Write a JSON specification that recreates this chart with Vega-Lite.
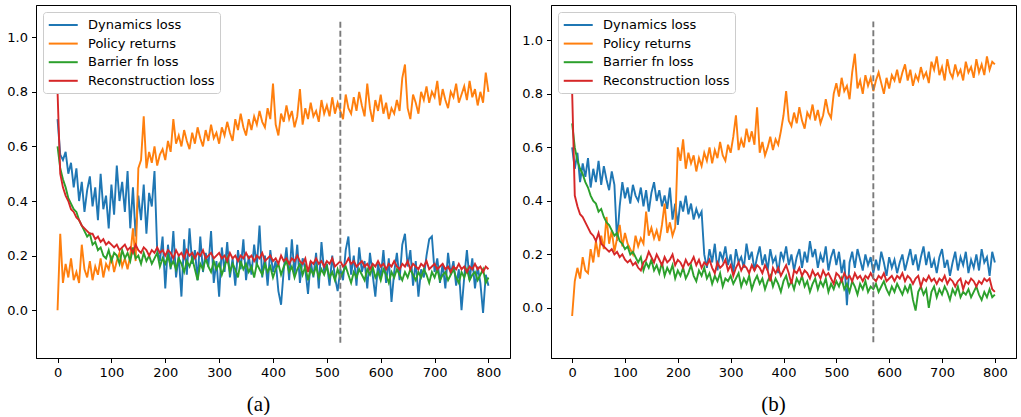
{
"$schema": "https://vega.github.io/schema/vega-lite/v6.json",
"padding": {"left": 6, "top": 4, "right": 2, "bottom": 0},
"background": "white",
"spacing": 10,
"config": {
  "view": {"stroke": "black", "strokeWidth": 1},
  "axis": {"domainColor": "black", "tickColor": "black", "labelColor": "black", "labelFont": "DejaVu Sans", "labelFontSize": 13, "tickSize": 4.5, "labelPadding": 4, "grid": false, "domainWidth": 1, "tickWidth": 1, "titleFont": "Liberation Serif", "titleFontSize": 21, "titleFontWeight": "normal", "titleColor": "black"},
  "legend": {"orient": "top-left", "offset": 6.5, "fillColor": "white", "strokeColor": "#cccccc", "strokeWidth": 1, "cornerRadius": 3, "padding": 4.5, "symbolType": "M-1,0H3", "symbolSize": 210, "symbolStrokeWidth": 2, "labelFont": "DejaVu Sans", "labelFontSize": 13, "labelColor": "black", "labelOffset": 23.5, "rowPadding": 2.6, "title": null}
},
"resolve": {"scale": {"color": "independent"}, "legend": {"color": "independent"}},
"datasets": {
"A": [
{"x":0,"d":0.70,"r":0.00,"b":0.60,"c":0.80},
{"x":5,"d":0.57,"r":0.28,"b":0.52,"c":0.50},
{"x":10,"d":0.55,"r":0.10,"b":0.48,"c":0.45},
{"x":15,"d":0.58,"r":0.17,"b":0.45,"c":0.42},
{"x":20,"d":0.50,"r":0.12,"b":0.41,"c":0.40},
{"x":25,"d":0.54,"r":0.19,"b":0.39,"c":0.37},
{"x":30,"d":0.45,"r":0.11,"b":0.37,"c":0.36},
{"x":35,"d":0.52,"r":0.14,"b":0.36,"c":0.34},
{"x":40,"d":0.40,"r":0.10,"b":0.33,"c":0.33},
{"x":45,"d":0.47,"r":0.24,"b":0.31,"c":0.31},
{"x":50,"d":0.36,"r":0.15,"b":0.29,"c":0.30},
{"x":55,"d":0.44,"r":0.12,"b":0.27,"c":0.29},
{"x":60,"d":0.49,"r":0.18,"b":0.28,"c":0.28},
{"x":65,"d":0.38,"r":0.11,"b":0.24,"c":0.28},
{"x":70,"d":0.45,"r":0.16,"b":0.25,"c":0.26},
{"x":75,"d":0.33,"r":0.13,"b":0.22,"c":0.27},
{"x":80,"d":0.50,"r":0.19,"b":0.23,"c":0.25},
{"x":85,"d":0.37,"r":0.12,"b":0.20,"c":0.26},
{"x":90,"d":0.42,"r":0.17,"b":0.19,"c":0.24},
{"x":95,"d":0.30,"r":0.15,"b":0.22,"c":0.25},
{"x":100,"d":0.46,"r":0.20,"b":0.18,"c":0.24},
{"x":105,"d":0.35,"r":0.14,"b":0.21,"c":0.23},
{"x":110,"d":0.53,"r":0.18,"b":0.20,"c":0.24},
{"x":115,"d":0.40,"r":0.21,"b":0.17,"c":0.22},
{"x":120,"d":0.47,"r":0.16,"b":0.22,"c":0.23},
{"x":125,"d":0.36,"r":0.19,"b":0.19,"c":0.24},
{"x":130,"d":0.51,"r":0.15,"b":0.21,"c":0.22},
{"x":135,"d":0.30,"r":0.20,"b":0.18,"c":0.23},
{"x":140,"d":0.45,"r":0.30,"b":0.23,"c":0.21},
{"x":145,"d":0.27,"r":0.18,"b":0.19,"c":0.24},
{"x":150,"d":0.42,"r":0.52,"b":0.20,"c":0.22},
{"x":155,"d":0.33,"r":0.55,"b":0.17,"c":0.21},
{"x":160,"d":0.46,"r":0.71,"b":0.21,"c":0.23},
{"x":165,"d":0.28,"r":0.52,"b":0.18,"c":0.22},
{"x":170,"d":0.43,"r":0.58,"b":0.20,"c":0.20},
{"x":175,"d":0.38,"r":0.54,"b":0.17,"c":0.22},
{"x":180,"d":0.51,"r":0.60,"b":0.19,"c":0.21},
{"x":185,"d":0.22,"r":0.53,"b":0.21,"c":0.23},
{"x":190,"d":0.18,"r":0.57,"b":0.16,"c":0.21},
{"x":195,"d":0.27,"r":0.59,"b":0.19,"c":0.22},
{"x":200,"d":0.08,"r":0.55,"b":0.17,"c":0.20},
{"x":205,"d":0.24,"r":0.62,"b":0.20,"c":0.22},
{"x":210,"d":0.15,"r":0.58,"b":0.16,"c":0.21},
{"x":215,"d":0.29,"r":0.70,"b":0.18,"c":0.19},
{"x":220,"d":0.12,"r":0.61,"b":0.15,"c":0.22},
{"x":225,"d":0.20,"r":0.64,"b":0.19,"c":0.20},
{"x":230,"d":0.05,"r":0.60,"b":0.17,"c":0.21},
{"x":235,"d":0.26,"r":0.66,"b":0.14,"c":0.19},
{"x":240,"d":0.13,"r":0.62,"b":0.18,"c":0.22},
{"x":245,"d":0.30,"r":0.59,"b":0.16,"c":0.20},
{"x":250,"d":0.17,"r":0.65,"b":0.19,"c":0.21},
{"x":255,"d":0.22,"r":0.61,"b":0.15,"c":0.19},
{"x":260,"d":0.11,"r":0.67,"b":0.11,"c":0.21},
{"x":265,"d":0.27,"r":0.63,"b":0.17,"c":0.20},
{"x":270,"d":0.14,"r":0.60,"b":0.15,"c":0.22},
{"x":275,"d":0.21,"r":0.66,"b":0.19,"c":0.19},
{"x":280,"d":0.16,"r":0.62,"b":0.16,"c":0.20},
{"x":285,"d":0.29,"r":0.68,"b":0.14,"c":0.21},
{"x":290,"d":0.10,"r":0.63,"b":0.18,"c":0.19},
{"x":295,"d":0.18,"r":0.65,"b":0.15,"c":0.20},
{"x":300,"d":0.05,"r":0.61,"b":0.17,"c":0.21},
{"x":305,"d":0.23,"r":0.67,"b":0.13,"c":0.19},
{"x":310,"d":0.14,"r":0.64,"b":0.16,"c":0.20},
{"x":315,"d":0.25,"r":0.69,"b":0.19,"c":0.18},
{"x":320,"d":0.12,"r":0.65,"b":0.14,"c":0.21},
{"x":325,"d":0.19,"r":0.62,"b":0.17,"c":0.19},
{"x":330,"d":0.09,"r":0.70,"b":0.15,"c":0.20},
{"x":335,"d":0.22,"r":0.66,"b":0.12,"c":0.18},
{"x":340,"d":0.15,"r":0.72,"b":0.18,"c":0.20},
{"x":345,"d":0.26,"r":0.67,"b":0.15,"c":0.19},
{"x":350,"d":0.11,"r":0.64,"b":0.17,"c":0.21},
{"x":355,"d":0.20,"r":0.70,"b":0.14,"c":0.19},
{"x":360,"d":0.13,"r":0.66,"b":0.16,"c":0.20},
{"x":365,"d":0.24,"r":0.71,"b":0.12,"c":0.18},
{"x":370,"d":0.16,"r":0.68,"b":0.17,"c":0.20},
{"x":375,"d":0.31,"r":0.73,"b":0.15,"c":0.19},
{"x":380,"d":0.12,"r":0.69,"b":0.13,"c":0.21},
{"x":385,"d":0.20,"r":0.67,"b":0.17,"c":0.18},
{"x":390,"d":0.09,"r":0.74,"b":0.14,"c":0.19},
{"x":395,"d":0.22,"r":0.70,"b":0.16,"c":0.20},
{"x":400,"d":0.14,"r":0.83,"b":0.12,"c":0.18},
{"x":405,"d":0.18,"r":0.68,"b":0.15,"c":0.19},
{"x":410,"d":0.07,"r":0.64,"b":0.17,"c":0.17},
{"x":415,"d":0.02,"r":0.72,"b":0.13,"c":0.20},
{"x":420,"d":0.15,"r":0.69,"b":0.16,"c":0.18},
{"x":425,"d":0.23,"r":0.75,"b":0.18,"c":0.19},
{"x":430,"d":0.11,"r":0.70,"b":0.14,"c":0.17},
{"x":435,"d":0.26,"r":0.73,"b":0.16,"c":0.19},
{"x":440,"d":0.13,"r":0.67,"b":0.12,"c":0.18},
{"x":445,"d":0.24,"r":0.71,"b":0.15,"c":0.20},
{"x":450,"d":0.10,"r":0.81,"b":0.17,"c":0.18},
{"x":455,"d":0.19,"r":0.68,"b":0.13,"c":0.17},
{"x":460,"d":0.15,"r":0.74,"b":0.16,"c":0.19},
{"x":465,"d":0.06,"r":0.70,"b":0.11,"c":0.14},
{"x":470,"d":0.18,"r":0.76,"b":0.15,"c":0.18},
{"x":475,"d":0.12,"r":0.71,"b":0.13,"c":0.17},
{"x":480,"d":0.21,"r":0.73,"b":0.16,"c":0.19},
{"x":485,"d":0.08,"r":0.69,"b":0.12,"c":0.17},
{"x":490,"d":0.25,"r":0.77,"b":0.15,"c":0.18},
{"x":495,"d":0.14,"r":0.72,"b":0.13,"c":0.16},
{"x":500,"d":0.17,"r":0.75,"b":0.16,"c":0.18},
{"x":505,"d":0.09,"r":0.71,"b":0.12,"c":0.17},
{"x":510,"d":0.20,"r":0.78,"b":0.14,"c":0.19},
{"x":515,"d":0.12,"r":0.72,"b":0.11,"c":0.16},
{"x":520,"d":0.07,"r":0.76,"b":0.15,"c":0.17},
{"x":525,"d":0.15,"r":0.73,"b":0.12,"c":0.18},
{"x":530,"d":0.11,"r":0.70,"b":0.14,"c":0.16},
{"x":535,"d":0.22,"r":0.79,"b":0.16,"c":0.17},
{"x":540,"d":0.27,"r":0.74,"b":0.13,"c":0.19},
{"x":545,"d":0.13,"r":0.72,"b":0.10,"c":0.17},
{"x":550,"d":0.20,"r":0.78,"b":0.14,"c":0.18},
{"x":555,"d":0.09,"r":0.73,"b":0.12,"c":0.16},
{"x":560,"d":0.23,"r":0.80,"b":0.15,"c":0.17},
{"x":565,"d":0.14,"r":0.75,"b":0.13,"c":0.18},
{"x":570,"d":0.18,"r":0.71,"b":0.11,"c":0.16},
{"x":575,"d":0.08,"r":0.83,"b":0.15,"c":0.17},
{"x":580,"d":0.21,"r":0.74,"b":0.13,"c":0.15},
{"x":585,"d":0.13,"r":0.69,"b":0.16,"c":0.17},
{"x":590,"d":0.05,"r":0.77,"b":0.12,"c":0.16},
{"x":595,"d":0.17,"r":0.73,"b":0.14,"c":0.18},
{"x":600,"d":0.12,"r":0.79,"b":0.11,"c":0.16},
{"x":605,"d":0.22,"r":0.72,"b":0.15,"c":0.17},
{"x":610,"d":0.10,"r":0.76,"b":0.13,"c":0.15},
{"x":615,"d":0.19,"r":0.70,"b":0.10,"c":0.17},
{"x":620,"d":0.03,"r":0.74,"b":0.14,"c":0.16},
{"x":625,"d":0.14,"r":0.72,"b":0.12,"c":0.18},
{"x":630,"d":0.21,"r":0.77,"b":0.15,"c":0.16},
{"x":635,"d":0.11,"r":0.73,"b":0.13,"c":0.15},
{"x":640,"d":0.24,"r":0.85,"b":0.11,"c":0.17},
{"x":645,"d":0.28,"r":0.90,"b":0.14,"c":0.16},
{"x":650,"d":0.16,"r":0.74,"b":0.12,"c":0.18},
{"x":655,"d":0.22,"r":0.70,"b":0.15,"c":0.15},
{"x":660,"d":0.09,"r":0.79,"b":0.13,"c":0.17},
{"x":665,"d":0.18,"r":0.76,"b":0.11,"c":0.16},
{"x":670,"d":0.05,"r":0.72,"b":0.14,"c":0.15},
{"x":675,"d":0.15,"r":0.80,"b":0.12,"c":0.17},
{"x":680,"d":0.12,"r":0.77,"b":0.15,"c":0.16},
{"x":685,"d":0.20,"r":0.82,"b":0.13,"c":0.18},
{"x":690,"d":0.26,"r":0.76,"b":0.10,"c":0.15},
{"x":695,"d":0.27,"r":0.80,"b":0.14,"c":0.16},
{"x":700,"d":0.14,"r":0.78,"b":0.12,"c":0.17},
{"x":705,"d":0.19,"r":0.84,"b":0.15,"c":0.15},
{"x":710,"d":0.10,"r":0.75,"b":0.11,"c":0.16},
{"x":715,"d":0.17,"r":0.81,"b":0.13,"c":0.17},
{"x":720,"d":0.08,"r":0.77,"b":0.14,"c":0.15},
{"x":725,"d":0.21,"r":0.74,"b":0.11,"c":0.16},
{"x":730,"d":0.13,"r":0.80,"b":0.13,"c":0.14},
{"x":735,"d":0.18,"r":0.78,"b":0.15,"c":0.16},
{"x":740,"d":0.09,"r":0.83,"b":0.12,"c":0.15},
{"x":745,"d":0.15,"r":0.76,"b":0.10,"c":0.17},
{"x":750,"d":0.00,"r":0.79,"b":0.14,"c":0.15},
{"x":755,"d":0.12,"r":0.82,"b":0.12,"c":0.16},
{"x":760,"d":0.22,"r":0.77,"b":0.15,"c":0.14},
{"x":765,"d":0.11,"r":0.84,"b":0.11,"c":0.16},
{"x":770,"d":0.19,"r":0.78,"b":0.13,"c":0.15},
{"x":775,"d":0.08,"r":0.81,"b":0.14,"c":0.17},
{"x":780,"d":0.16,"r":0.75,"b":0.11,"c":0.15},
{"x":785,"d":0.10,"r":0.80,"b":0.13,"c":0.16},
{"x":790,"d":-0.01,"r":0.76,"b":0.15,"c":0.14},
{"x":795,"d":0.13,"r":0.87,"b":0.10,"c":0.16},
{"x":800,"d":0.09,"r":0.80,"b":0.12,"c":0.15}
],
"B": [
{"x":0,"d":0.60,"r":-0.03,"b":0.69,"c":0.81},
{"x":5,"d":0.52,"r":0.10,"b":0.60,"c":0.42},
{"x":10,"d":0.58,"r":0.15,"b":0.55,"c":0.38},
{"x":15,"d":0.47,"r":0.11,"b":0.52,"c":0.35},
{"x":20,"d":0.54,"r":0.19,"b":0.50,"c":0.34},
{"x":25,"d":0.49,"r":0.14,"b":0.47,"c":0.32},
{"x":30,"d":0.56,"r":0.13,"b":0.45,"c":0.30},
{"x":35,"d":0.45,"r":0.22,"b":0.42,"c":0.28},
{"x":40,"d":0.52,"r":0.17,"b":0.40,"c":0.27},
{"x":45,"d":0.47,"r":0.25,"b":0.39,"c":0.25},
{"x":50,"d":0.55,"r":0.19,"b":0.36,"c":0.28},
{"x":55,"d":0.46,"r":0.27,"b":0.37,"c":0.24},
{"x":60,"d":0.53,"r":0.22,"b":0.34,"c":0.23},
{"x":65,"d":0.48,"r":0.34,"b":0.32,"c":0.22},
{"x":70,"d":0.44,"r":0.24,"b":0.31,"c":0.21},
{"x":75,"d":0.51,"r":0.29,"b":0.29,"c":0.22},
{"x":80,"d":0.46,"r":0.21,"b":0.27,"c":0.20},
{"x":85,"d":0.25,"r":0.26,"b":0.28,"c":0.21},
{"x":90,"d":0.38,"r":0.31,"b":0.25,"c":0.19},
{"x":95,"d":0.47,"r":0.23,"b":0.24,"c":0.20},
{"x":100,"d":0.41,"r":0.28,"b":0.22,"c":0.18},
{"x":105,"d":0.45,"r":0.24,"b":0.23,"c":0.17},
{"x":110,"d":0.39,"r":0.22,"b":0.20,"c":0.18},
{"x":115,"d":0.46,"r":0.20,"b":0.21,"c":0.16},
{"x":120,"d":0.42,"r":0.27,"b":0.19,"c":0.17},
{"x":125,"d":0.40,"r":0.23,"b":0.17,"c":0.15},
{"x":130,"d":0.45,"r":0.26,"b":0.19,"c":0.14},
{"x":135,"d":0.38,"r":0.24,"b":0.14,"c":0.17},
{"x":140,"d":0.44,"r":0.36,"b":0.17,"c":0.18},
{"x":145,"d":0.36,"r":0.27,"b":0.15,"c":0.21},
{"x":150,"d":0.43,"r":0.30,"b":0.18,"c":0.19},
{"x":155,"d":0.47,"r":0.26,"b":0.14,"c":0.17},
{"x":160,"d":0.40,"r":0.29,"b":0.16,"c":0.20},
{"x":165,"d":0.44,"r":0.25,"b":0.13,"c":0.18},
{"x":170,"d":0.38,"r":0.31,"b":0.17,"c":0.16},
{"x":175,"d":0.42,"r":0.39,"b":0.12,"c":0.19},
{"x":180,"d":0.37,"r":0.28,"b":0.15,"c":0.17},
{"x":185,"d":0.45,"r":0.32,"b":0.13,"c":0.18},
{"x":190,"d":0.33,"r":0.27,"b":0.16,"c":0.20},
{"x":195,"d":0.39,"r":0.30,"b":0.11,"c":0.16},
{"x":200,"d":0.31,"r":0.60,"b":0.14,"c":0.18},
{"x":205,"d":0.40,"r":0.55,"b":0.12,"c":0.17},
{"x":210,"d":0.36,"r":0.63,"b":0.15,"c":0.15},
{"x":215,"d":0.42,"r":0.52,"b":0.11,"c":0.18},
{"x":220,"d":0.35,"r":0.58,"b":0.13,"c":0.16},
{"x":225,"d":0.39,"r":0.54,"b":0.16,"c":0.17},
{"x":230,"d":0.33,"r":0.57,"b":0.12,"c":0.19},
{"x":235,"d":0.37,"r":0.51,"b":0.10,"c":0.16},
{"x":240,"d":0.34,"r":0.56,"b":0.14,"c":0.18},
{"x":245,"d":0.36,"r":0.53,"b":0.12,"c":0.15},
{"x":250,"d":0.20,"r":0.58,"b":0.15,"c":0.17},
{"x":255,"d":0.15,"r":0.55,"b":0.11,"c":0.16},
{"x":260,"d":0.22,"r":0.60,"b":0.13,"c":0.18},
{"x":265,"d":0.17,"r":0.54,"b":0.09,"c":0.15},
{"x":270,"d":0.24,"r":0.59,"b":0.12,"c":0.13},
{"x":275,"d":0.14,"r":0.56,"b":0.10,"c":0.17},
{"x":280,"d":0.21,"r":0.62,"b":0.13,"c":0.15},
{"x":285,"d":0.18,"r":0.57,"b":0.08,"c":0.16},
{"x":290,"d":0.23,"r":0.55,"b":0.11,"c":0.18},
{"x":295,"d":0.16,"r":0.61,"b":0.10,"c":0.14},
{"x":300,"d":0.20,"r":0.58,"b":0.12,"c":0.16},
{"x":305,"d":0.13,"r":0.64,"b":0.09,"c":0.12},
{"x":310,"d":0.22,"r":0.72,"b":0.11,"c":0.15},
{"x":315,"d":0.17,"r":0.59,"b":0.13,"c":0.17},
{"x":320,"d":0.19,"r":0.63,"b":0.08,"c":0.14},
{"x":325,"d":0.15,"r":0.60,"b":0.11,"c":0.16},
{"x":330,"d":0.24,"r":0.67,"b":0.09,"c":0.15},
{"x":335,"d":0.18,"r":0.62,"b":0.12,"c":0.13},
{"x":340,"d":0.21,"r":0.66,"b":0.07,"c":0.16},
{"x":345,"d":0.14,"r":0.61,"b":0.10,"c":0.14},
{"x":350,"d":0.19,"r":0.75,"b":0.12,"c":0.16},
{"x":355,"d":0.23,"r":0.58,"b":0.09,"c":0.15},
{"x":360,"d":0.16,"r":0.62,"b":0.11,"c":0.13},
{"x":365,"d":0.20,"r":0.57,"b":0.07,"c":0.16},
{"x":370,"d":0.14,"r":0.60,"b":0.10,"c":0.14},
{"x":375,"d":0.22,"r":0.64,"b":0.12,"c":0.10},
{"x":380,"d":0.17,"r":0.59,"b":0.08,"c":0.15},
{"x":385,"d":0.19,"r":0.63,"b":0.11,"c":0.13},
{"x":390,"d":0.13,"r":0.61,"b":0.09,"c":0.15},
{"x":395,"d":0.21,"r":0.66,"b":0.06,"c":0.12},
{"x":400,"d":0.18,"r":0.72,"b":0.10,"c":0.14},
{"x":405,"d":0.23,"r":0.81,"b":0.12,"c":0.16},
{"x":410,"d":0.16,"r":0.70,"b":0.08,"c":0.13},
{"x":415,"d":0.20,"r":0.68,"b":0.10,"c":0.09},
{"x":420,"d":0.14,"r":0.73,"b":0.07,"c":0.14},
{"x":425,"d":0.19,"r":0.69,"b":0.11,"c":0.13},
{"x":430,"d":0.22,"r":0.75,"b":0.09,"c":0.15},
{"x":435,"d":0.15,"r":0.70,"b":0.12,"c":0.12},
{"x":440,"d":0.21,"r":0.67,"b":0.08,"c":0.14},
{"x":445,"d":0.17,"r":0.73,"b":0.10,"c":0.13},
{"x":450,"d":0.25,"r":0.71,"b":0.06,"c":0.11},
{"x":455,"d":0.19,"r":0.76,"b":0.09,"c":0.14},
{"x":460,"d":0.22,"r":0.70,"b":0.11,"c":0.12},
{"x":465,"d":0.15,"r":0.74,"b":0.07,"c":0.13},
{"x":470,"d":0.20,"r":0.69,"b":0.10,"c":0.11},
{"x":475,"d":0.17,"r":0.72,"b":0.08,"c":0.14},
{"x":480,"d":0.23,"r":0.78,"b":0.11,"c":0.12},
{"x":485,"d":0.14,"r":0.73,"b":0.06,"c":0.13},
{"x":490,"d":0.19,"r":0.71,"b":0.09,"c":0.11},
{"x":495,"d":0.22,"r":0.80,"b":0.07,"c":0.09},
{"x":500,"d":0.16,"r":0.84,"b":0.10,"c":0.13},
{"x":505,"d":0.21,"r":0.79,"b":0.08,"c":0.12},
{"x":510,"d":0.13,"r":0.86,"b":0.11,"c":0.10},
{"x":515,"d":0.18,"r":0.81,"b":0.07,"c":0.13},
{"x":520,"d":0.01,"r":0.83,"b":0.09,"c":0.11},
{"x":525,"d":0.17,"r":0.78,"b":0.06,"c":0.12},
{"x":530,"d":0.21,"r":0.88,"b":0.10,"c":0.10},
{"x":535,"d":0.15,"r":0.95,"b":0.08,"c":0.13},
{"x":540,"d":0.22,"r":0.82,"b":0.05,"c":0.11},
{"x":545,"d":0.18,"r":0.85,"b":0.09,"c":0.12},
{"x":550,"d":0.14,"r":0.80,"b":0.07,"c":0.10},
{"x":555,"d":0.20,"r":0.87,"b":0.10,"c":0.12},
{"x":560,"d":0.16,"r":0.83,"b":0.06,"c":0.11},
{"x":565,"d":0.19,"r":0.86,"b":0.08,"c":0.13},
{"x":570,"d":0.13,"r":0.81,"b":0.07,"c":0.11},
{"x":575,"d":0.18,"r":0.85,"b":0.09,"c":0.10},
{"x":580,"d":0.14,"r":0.88,"b":0.06,"c":0.12},
{"x":585,"d":0.21,"r":0.84,"b":0.08,"c":0.11},
{"x":590,"d":0.17,"r":0.80,"b":0.10,"c":0.13},
{"x":595,"d":0.12,"r":0.86,"b":0.07,"c":0.10},
{"x":600,"d":0.19,"r":0.82,"b":0.05,"c":0.11},
{"x":605,"d":0.15,"r":0.87,"b":0.08,"c":0.12},
{"x":610,"d":0.18,"r":0.85,"b":0.06,"c":0.10},
{"x":615,"d":0.13,"r":0.89,"b":0.09,"c":0.12},
{"x":620,"d":0.17,"r":0.84,"b":0.07,"c":0.11},
{"x":625,"d":0.20,"r":0.88,"b":0.05,"c":0.13},
{"x":630,"d":0.14,"r":0.91,"b":0.08,"c":0.10},
{"x":635,"d":0.18,"r":0.85,"b":0.06,"c":0.12},
{"x":640,"d":0.22,"r":0.89,"b":0.09,"c":0.11},
{"x":645,"d":0.16,"r":0.83,"b":0.03,"c":0.09},
{"x":650,"d":0.20,"r":0.87,"b":-0.01,"c":0.11},
{"x":655,"d":0.14,"r":0.85,"b":0.06,"c":0.12},
{"x":660,"d":0.19,"r":0.90,"b":0.08,"c":0.08},
{"x":665,"d":0.23,"r":0.86,"b":0.05,"c":0.11},
{"x":670,"d":0.16,"r":0.88,"b":0.07,"c":0.10},
{"x":675,"d":0.21,"r":0.84,"b":0.00,"c":0.12},
{"x":680,"d":0.15,"r":0.92,"b":0.06,"c":0.10},
{"x":685,"d":0.18,"r":0.89,"b":0.08,"c":0.11},
{"x":690,"d":0.13,"r":0.94,"b":0.04,"c":0.09},
{"x":695,"d":0.19,"r":0.87,"b":0.07,"c":0.11},
{"x":700,"d":0.22,"r":0.90,"b":0.05,"c":0.10},
{"x":705,"d":0.15,"r":0.85,"b":0.08,"c":0.12},
{"x":710,"d":0.18,"r":0.93,"b":0.06,"c":0.09},
{"x":715,"d":0.12,"r":0.88,"b":0.03,"c":0.11},
{"x":720,"d":0.17,"r":0.86,"b":0.07,"c":0.10},
{"x":725,"d":0.21,"r":0.91,"b":0.05,"c":0.08},
{"x":730,"d":0.14,"r":0.87,"b":0.08,"c":0.10},
{"x":735,"d":0.19,"r":0.89,"b":0.04,"c":0.11},
{"x":740,"d":0.16,"r":0.85,"b":0.06,"c":0.07},
{"x":745,"d":0.21,"r":0.92,"b":0.05,"c":0.10},
{"x":750,"d":0.13,"r":0.88,"b":0.07,"c":0.09},
{"x":755,"d":0.18,"r":0.90,"b":0.04,"c":0.11},
{"x":760,"d":0.15,"r":0.86,"b":0.06,"c":0.10},
{"x":765,"d":0.20,"r":0.93,"b":0.08,"c":0.08},
{"x":770,"d":0.14,"r":0.88,"b":0.05,"c":0.10},
{"x":775,"d":0.22,"r":0.91,"b":0.03,"c":0.09},
{"x":780,"d":0.17,"r":0.87,"b":0.06,"c":0.11},
{"x":785,"d":0.19,"r":0.94,"b":0.04,"c":0.10},
{"x":790,"d":0.12,"r":0.89,"b":0.07,"c":0.11},
{"x":795,"d":0.21,"r":0.92,"b":0.04,"c":0.07},
{"x":800,"d":0.17,"r":0.91,"b":0.05,"c":0.06}
]
},
"hconcat": [
{
  "width": 474, "height": 353,
  "layer": [
    {
      "data": {"name": "A"},
      "transform": [{"fold": ["d", "r", "b", "c"], "as": ["k", "v"]}],
      "mark": {"type": "line", "strokeWidth": 1.9, "clip": true},
      "encoding": {
        "x": {"field": "x", "type": "quantitative", "title": "(a)", "scale": {"domain": [-40, 840], "nice": false, "zero": false}, "axis": {"values": [0, 100, 200, 300, 400, 500, 600, 700, 800], "titleX": 222, "titleY": 52, "titleBaseline": "alphabetic"}},
        "y": {"field": "v", "type": "quantitative", "title": null, "scale": {"domain": [-0.175, 1.118], "nice": false, "zero": false}, "axis": {"values": [0, 0.2, 0.4, 0.6, 0.8, 1.0], "format": ".1f"}},
        "color": {"field": "k", "type": "nominal", "scale": {"domain": ["d", "r", "b", "c"], "range": ["#1f77b4", "#ff7f0e", "#2ca02c", "#d62728"]}, "legend": {"labelExpr": "datum.label == 'd' ? 'Dynamics loss' : datum.label == 'r' ? 'Policy returns' : datum.label == 'b' ? 'Barrier fn loss' : 'Reconstruction loss'"}}
      }
    },
    {
      "data": {"values": [{"x": 525, "y1": -0.119, "y2": 1.06}]},
      "mark": {"type": "rule", "strokeDash": [6, 3], "color": "#7a7a7a", "strokeWidth": 1.9},
      "encoding": {
        "x": {"field": "x", "type": "quantitative", "title": "(a)"},
        "y": {"field": "y1", "type": "quantitative", "title": null},
        "y2": {"field": "y2"}
      }
    }
  ]
},
{
  "width": 465, "height": 353,
  "layer": [
    {
      "data": {"name": "B"},
      "transform": [{"fold": ["d", "r", "b", "c"], "as": ["k", "v"]}],
      "mark": {"type": "line", "strokeWidth": 1.9, "clip": true},
      "encoding": {
        "x": {"field": "x", "type": "quantitative", "title": "(b)", "scale": {"domain": [-40, 840], "nice": false, "zero": false}, "axis": {"values": [0, 100, 200, 300, 400, 500, 600, 700, 800], "titleX": 222, "titleY": 52, "titleBaseline": "alphabetic"}},
        "y": {"field": "v", "type": "quantitative", "title": null, "scale": {"domain": [-0.187, 1.132], "nice": false, "zero": false}, "axis": {"values": [0, 0.2, 0.4, 0.6, 0.8, 1.0], "format": ".1f"}},
        "color": {"field": "k", "type": "nominal", "scale": {"domain": ["d", "r", "b", "c"], "range": ["#1f77b4", "#ff7f0e", "#2ca02c", "#d62728"]}, "legend": {"labelExpr": "datum.label == 'd' ? 'Dynamics loss' : datum.label == 'r' ? 'Policy returns' : datum.label == 'b' ? 'Barrier fn loss' : 'Reconstruction loss'"}}
      }
    },
    {
      "data": {"values": [{"x": 570, "y1": -0.128, "y2": 1.07}]},
      "mark": {"type": "rule", "strokeDash": [6, 3], "color": "#7a7a7a", "strokeWidth": 1.9},
      "encoding": {
        "x": {"field": "x", "type": "quantitative", "title": "(b)"},
        "y": {"field": "y1", "type": "quantitative", "title": null},
        "y2": {"field": "y2"}
      }
    }
  ]
}
]
}
